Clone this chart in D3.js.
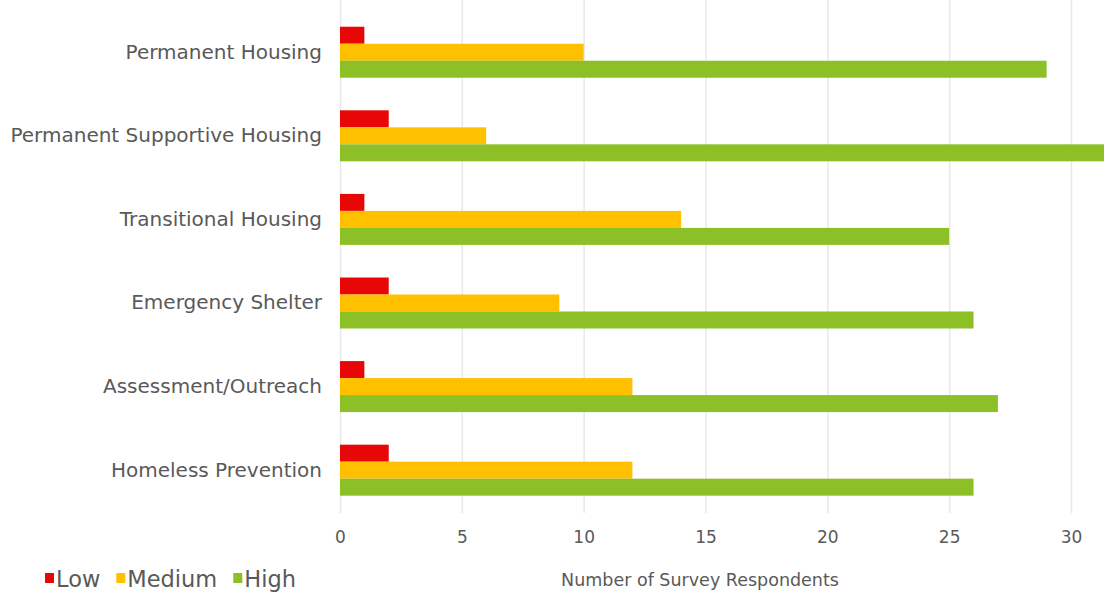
<!DOCTYPE html>
<html>
<head>
<meta charset="utf-8">
<script src="https://cdn.jsdelivr.net/npm/d3@7"></script>
<style>
  body { margin: 0; background: #fff; }
  text { font-family: 'DejaVu Sans', sans-serif; fill: #595959; }
</style>
</head>
<body>
<div id="chart"></div>
<script>
// data
var categories = ['Permanent Housing', 'Permanent Supportive Housing', 'Transitional Housing',
                  'Emergency Shelter', 'Assessment/Outreach', 'Homeless Prevention'];
var seriesNames = ['Low', 'Medium', 'High'];
var lowValues = [1, 2, 1, 2, 1, 2];
var mediumValues = [10, 6, 14, 9, 12, 12];
var highValues = [29, 32, 25, 26, 27, 26];
var tickValues = [0, 5, 10, 15, 20, 25, 30];
var colorList = ['#e80707', '#ffc000', '#8cc026'];
var axisTitle = 'Number of Survey Respondents';

var seriesValues = [lowValues, mediumValues, highValues];

var rows = categories.map((c, i) => {
  var row = {name: c};
  seriesNames.forEach((s, j) => row[s] = seriesValues[j][i]);
  return row;
});

var svg = d3.select('#chart')
            .append('svg')
            .attr('width', 1104)
            .attr('height', 596);

//scales
var x = d3.scaleLinear()
          .domain([0, 30])
          .range([340, 1071]);

var y = d3.scaleBand()
          .domain(categories)
          .range([5, 517.4])
          .paddingInner(0.39)
          .paddingOuter(0.26);

var ySub = d3.scaleBand()
             .domain(seriesNames)
             .range([0, y.bandwidth()]);

var colors = d3.scaleOrdinal(seriesNames, colorList);

//gridlines
svg.append('g')
   .attr('transform', 'translate(0, 513)')
   .call(d3.axisBottom(x).tickValues(tickValues).tickSize(-513).tickFormat(''))
   .call(g => g.select('.domain').remove())
   .call(g => g.selectAll('line').attr('stroke', '#e8e8e8').attr('stroke-width', 1.5));

//bars
var groups = svg.selectAll('g.cat')
                .data(rows)
                .enter()
                .append('g')
                .attr('class', 'cat')
                .attr('transform', d => `translate(0, ${y(d.name)})`);

groups.selectAll('rect')
      .data(d => seriesNames.map(s => ({key: s, value: d[s]})))
      .enter()
      .append('rect')
      .attr('x', x(0))
      .attr('y', d => ySub(d.key))
      .attr('width', d => x(d.value) - x(0))
      .attr('height', ySub.bandwidth())
      .attr('fill', d => colors(d.key));

//category labels
svg.append('g')
   .attr('transform', 'translate(340, 0)')
   .call(d3.axisLeft(y).tickSize(0).tickPadding(18))
   .call(g => g.select('.domain').remove())
   .call(g => g.selectAll('text')
               .style('font-size', '20px')
               .style('font-family', "'DejaVu Sans', sans-serif")
               .attr('fill', '#595959'));

//x axis labels
svg.append('g')
   .attr('transform', 'translate(0, 528)')
   .call(d3.axisBottom(x).tickValues(tickValues).tickSize(0))
   .call(g => g.select('.domain').remove())
   .call(g => g.selectAll('text')
               .style('font-size', '17px')
               .style('font-family', "'DejaVu Sans', sans-serif")
               .attr('fill', '#595959'));

svg.append('text')
   .attr('x', 700)
   .attr('y', 586)
   .attr('text-anchor', 'middle')
   .style('font-size', '17.5px')
   .text(axisTitle);

//legend
var legend = svg.append('g').attr('transform', 'translate(45, 587)');
var lx = 0;
seriesNames.forEach((s, i) => {
  legend.append('rect')
        .attr('x', lx)
        .attr('y', -14)
        .attr('width', 9)
        .attr('height', 10)
        .attr('fill', colors(s));
  var t = legend.append('text')
                .attr('x', lx + 11)
                .style('font-size', '22.5px')
                .text(s);
  lx += 11 + t.node().getComputedTextLength() + 16;
});
</script>
</body>
</html>
